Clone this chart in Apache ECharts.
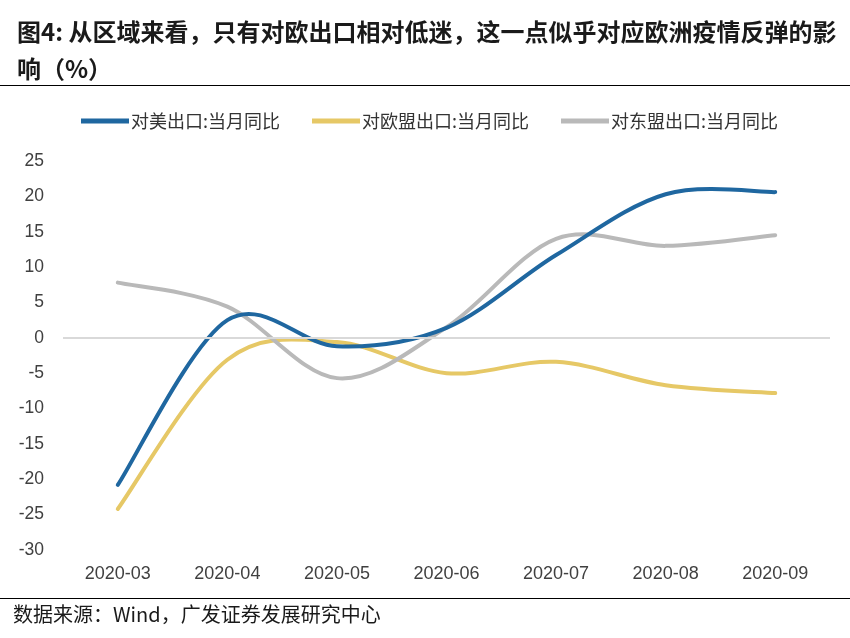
<!DOCTYPE html>
<html><head><meta charset="utf-8">
<script src="https://cdn.jsdelivr.net/npm/echarts@6/dist/echarts.min.js"></script>
<style>html,body{margin:0;padding:0;background:#fff}#c{width:850px;height:638px}</style>
</head><body><div id="c"></div>
<script>
const categories = ['2020-03','2020-04','2020-05','2020-06','2020-07','2020-08','2020-09'];
const usExport = [-20.8, 2.5, -1.2, 1.4, 11.7, 20.3, 20.6];
const euExport = [-24.2, -3.1, -0.6, -5.0, -3.4, -6.7, -7.8];
const aseanExport = [7.8, 4.4, -5.7, 1.5, 14.0, 13.0, 14.5];
const seriesNames = ['对美出口:当月同比','对欧盟出口:当月同比','对东盟出口:当月同比'];
const yTicks = {min:-30, max:25, interval:5};

const chart = echarts.init(document.getElementById('c'));

// Excel-like smoothed line (Catmull-Rom through the data points, positions via api.coord)
function smoothSeries(name, values, color){
  return {
    name, type:'custom', coordinateSystem:'cartesian2d',
    data: values.map((v,i)=>[i,v]),
    itemStyle:{color},
    encode:{x:0, y:1},
    z:3,
    renderItem:function(params, api){
      if (params.dataIndex !== 0) return;
      const pts = values.map((v,i)=>api.coord([i,v]));
      const n = pts.length;
      let d = 'M' + pts[0][0] + ' ' + pts[0][1];
      for (let i=0;i<n-1;i++){
        const p0 = pts[Math.max(i-1,0)], p1 = pts[i], p2 = pts[i+1], p3 = pts[Math.min(i+2,n-1)];
        const c1x = p1[0] + (p2[0]-p0[0])/6, c1y = p1[1] + (p2[1]-p0[1])/6;
        const c2x = p2[0] - (p3[0]-p1[0])/6, c2y = p2[1] - (p3[1]-p1[1])/6;
        d += ' C' + c1x + ' ' + c1y + ' ' + c2x + ' ' + c2y + ' ' + p2[0] + ' ' + p2[1];
      }
      return {type:'path', shape:{pathData:d}, style:{fill:'none', stroke:color, lineWidth:4, lineCap:'round', lineJoin:'round'}};
    }
  };
}

chart.setOption({
  animation:false,
  title:{
    text:'图4: 从区域来看，只有对欧出口相对低迷，这一点似乎对应欧洲疫情反弹的影\n响（%）',
    left:12, top:8,
    textStyle:{fontSize:24, fontWeight:'bold', color:'#1a1a1a', lineHeight:37, fontFamily:'Noto Sans CJK SC'}
  },
  graphic:[
    {type:'line', shape:{x1:0,y1:85.5,x2:850,y2:85.5}, style:{stroke:'#000', lineWidth:1}},
    {type:'line', shape:{x1:0,y1:598.5,x2:850,y2:598.5}, style:{stroke:'#000', lineWidth:1}},
    {type:'text', left:13, top:604, style:{text:'数据来源：Wind，广发证券发展研究中心', fontSize:20, fill:'#1a1a1a', fontFamily:'Noto Sans CJK SC'}}
  ],
  legend:{
    top:107, left:76, itemWidth:48, itemHeight:5, itemGap:32,
    icon:'rect',
    textStyle:{fontSize:18, color:'#333', fontFamily:'Noto Sans CJK SC', padding:[0,0,0,-3]},
    data:seriesNames
  },
  grid:{left:63, right:20, top:161, bottom:88},
  xAxis:{
    type:'category', data:categories, boundaryGap:true,
    axisLine:{show:false}, axisTick:{show:false},
    axisLabel:{fontSize:18, color:'#404040', margin:15, fontFamily:'Liberation Sans'}
  },
  yAxis:{
    type:'value', min:yTicks.min, max:yTicks.max, interval:yTicks.interval,
    axisLine:{show:false}, axisTick:{show:false}, splitLine:{show:false},
    axisLabel:{fontSize:17.5, color:'#404040', margin:19, fontFamily:'Liberation Sans'}
  },
  series:[
    {type:'line', name:'zero', data:[], silent:true,
      markLine:{silent:true, symbol:'none', label:{show:false},
        lineStyle:{color:'#d9d9d9', width:2, type:'solid'}, data:[{yAxis:0}], animation:false}},
    smoothSeries(seriesNames[1], euExport, '#e6c866'),
    smoothSeries(seriesNames[2], aseanExport, '#b9b9b9'),
    smoothSeries(seriesNames[0], usExport, '#1f67a0')
  ]
});
</script></body></html>
